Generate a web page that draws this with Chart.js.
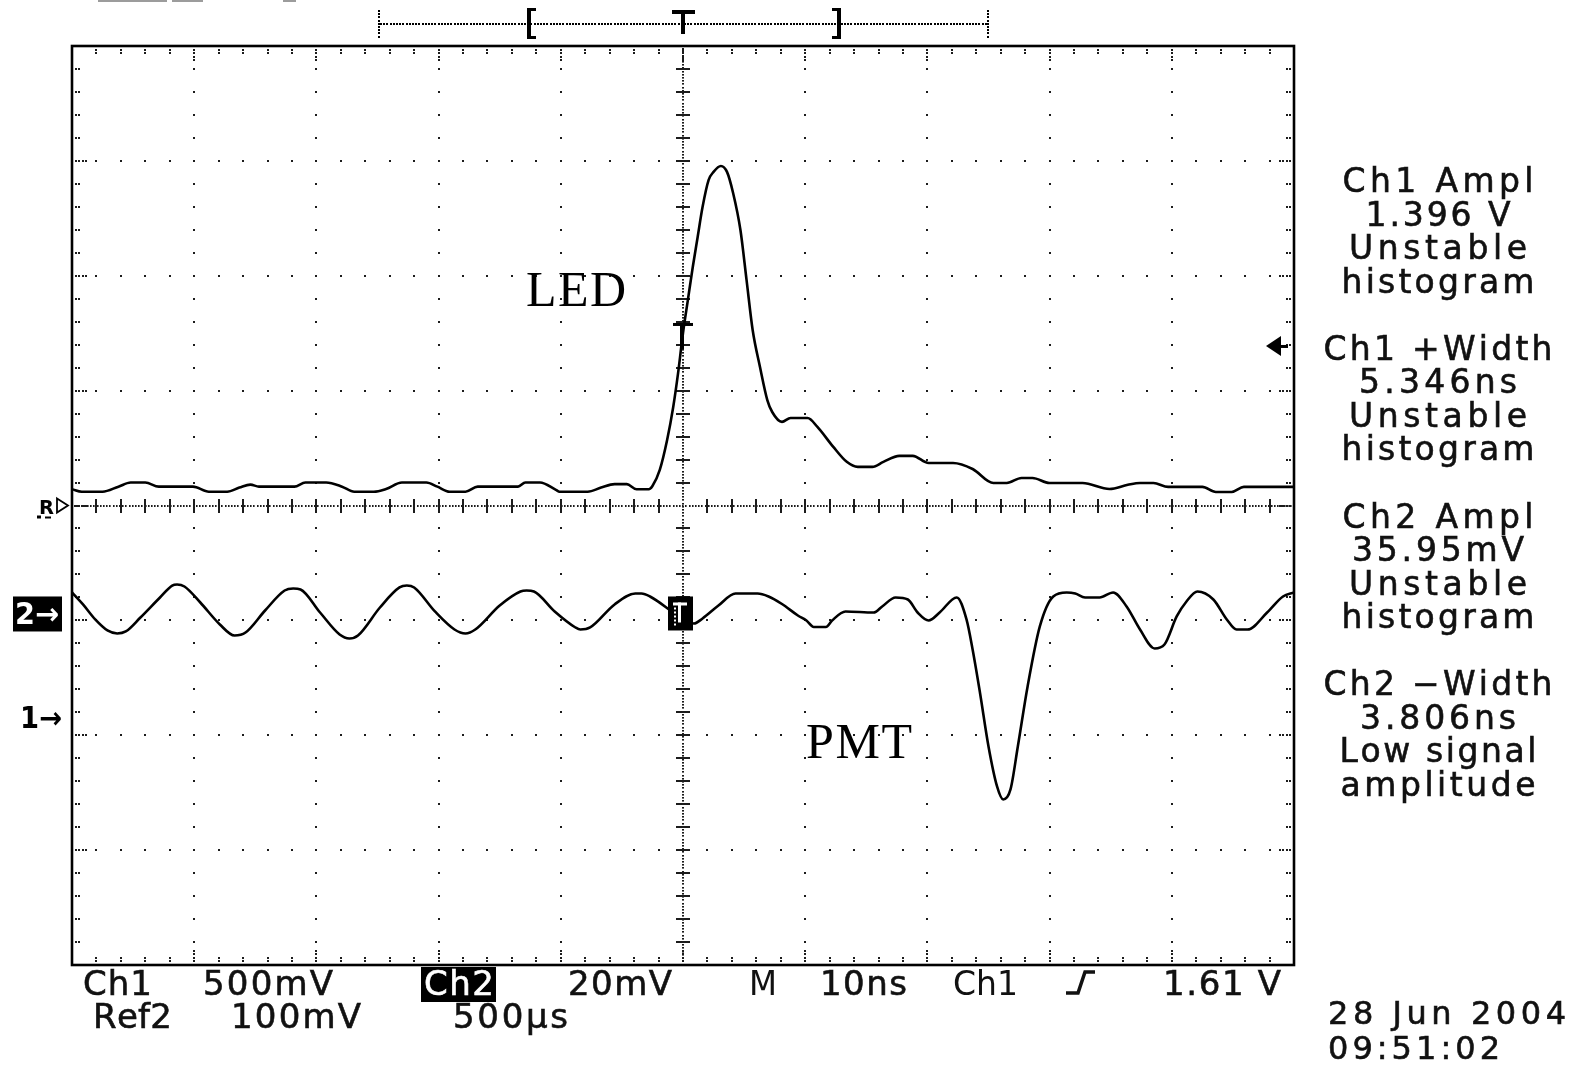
<!DOCTYPE html>
<html>
<head>
<meta charset="utf-8">
<script src="https://cdn.jsdelivr.net/npm/chart.js@4.4.1/dist/chart.umd.min.js"></script>
<style>
  html, body { margin: 0; padding: 0; background: #fff; }
  #wrap { width: 1570px; height: 1065px; position: relative; }
  canvas { display: block; }
</style>
</head>
<body>
<div id="wrap"><canvas id="scope" width="1570" height="1065"></canvas></div>
<script>
// ---------------- data ----------------
// Ch1 : LED drive pulse, volts ; Ch2 : PMT output, millivolts ; time in ns
const TIME_NS_LED = [-50.0,-49.2,-47.5,-46.2,-45.2,-44.0,-42.9,-40.1,-38.8,-37.3,-36.3,-35.4,-34.7,-31.8,-30.9,-29.2,-27.9,-26.9,-25.3,-24.3,-23.0,-21.0,-20.1,-19.1,-17.8,-16.8,-13.5,-12.9,-11.7,-10.4,-10.1,-7.8,-6.7,-5.6,-4.6,-3.8,-2.8,-2.5,-1.9,-1.3,-0.8,-0.4,0.0,0.4,0.8,1.2,1.6,2.1,2.5,3.1,3.6,4.1,4.7,5.2,5.7,6.3,6.9,7.3,8.1,8.8,10.2,11.0,12.3,13.4,14.3,15.5,16.4,17.7,18.8,20.1,22.1,23.7,25.4,26.5,27.7,28.6,30.0,32.7,34.9,36.4,37.4,38.5,39.7,42.5,43.6,44.9,45.9,50.0];
const CH1_LED_V = [0.991,0.980,0.980,1.002,1.020,1.020,1.002,1.002,0.980,0.980,0.998,1.011,1.002,1.002,1.020,1.020,1.002,0.980,0.980,0.992,1.020,1.020,1.002,0.980,0.980,1.002,1.002,1.020,1.020,0.988,0.980,0.980,0.998,1.013,1.013,0.991,0.991,1.005,1.075,1.205,1.349,1.497,1.671,1.815,1.958,2.089,2.219,2.337,2.372,2.398,2.372,2.280,2.119,1.902,1.684,1.523,1.379,1.327,1.284,1.301,1.301,1.262,1.175,1.110,1.088,1.088,1.110,1.136,1.136,1.105,1.105,1.079,1.018,1.018,1.040,1.040,1.018,1.018,0.992,1.010,1.018,1.018,1.001,1.001,0.979,0.979,1.001,1.001];

const TIME_NS_PMT = [-50.0,-49.1,-48.1,-47.1,-46.3,-45.6,-44.4,-42.8,-41.8,-41.4,-40.8,-39.5,-37.9,-36.7,-35.8,-34.2,-32.6,-31.9,-31.3,-29.7,-28.1,-27.3,-26.6,-24.8,-23.2,-22.6,-22.0,-20.3,-18.7,-17.8,-17.0,-15.0,-13.3,-12.8,-12.2,-10.5,-8.8,-8.4,-7.6,-5.6,-3.9,-3.4,-2.7,-0.8,0.0,0.9,1.6,2.9,4.3,6.1,7.0,8.1,9.4,10.1,10.7,11.7,12.2,13.3,15.6,16.3,17.4,18.4,19.2,20.1,21.0,22.4,23.2,23.7,24.3,25.0,25.7,26.2,26.8,27.4,28.2,29.2,30.3,31.4,32.1,32.9,34.1,35.2,36.3,37.4,38.6,39.4,40.4,41.2,42.1,43.4,44.5,45.3,46.2,47.8,49.1,50.0];
const CH2_PMT_MV = [3.66,1.57,-1.04,-2.96,-3.48,-3.13,-0.70,2.79,4.87,5.05,4.70,1.91,-1.91,-3.83,-3.31,0.52,4.00,4.35,4.18,0.17,-3.66,-4.35,-3.83,1.04,4.53,4.87,4.53,0.35,-2.79,-3.48,-2.79,1.39,3.83,4.00,3.83,0.35,-2.44,-2.79,-2.44,1.57,3.48,3.48,2.96,0.17,-1.04,-1.74,-0.87,1.39,3.48,3.48,2.96,1.65,-0.35,-1.22,-2.35,-2.35,-1.22,0.35,0.17,1.22,2.79,2.44,0.17,-1.22,0.17,2.79,-1.04,-6.27,-13.75,-23.15,-30.11,-32.38,-30.64,-23.15,-12.71,-2.26,2.96,3.66,3.48,2.79,2.79,3.66,1.22,-2.79,-6.09,-5.40,-0.52,2.09,3.83,2.44,-1.04,-2.79,-2.79,0.17,2.96,3.66];

// scope settings
const NS_PER_DIV = 10;
const CH1_V_PER_DIV = 0.5;
const CH2_MV_PER_DIV = 20;
const CH1_POSITION_DIV = -1.84;
const CH2_POSITION_DIV = -0.94;
const REF2_POSITION_DIV = 0;
const TRIGGER_LEVEL_V = 1.61;
const H_DIVS = 10, V_DIVS = 8, MINOR = 5;

// texts
const TRACE_LABELS = ["LED", "PMT"];
const MEASUREMENTS = [
  ["Ch1 Ampl", "1.396 V", "Unstable", "histogram"],
  ["Ch1 +Width", "5.346ns", "Unstable", "histogram"],
  ["Ch2 Ampl", "35.95mV", "Unstable", "histogram"],
  ["Ch2 \u2212Width", "3.806ns", "Low signal", "amplitude"]
];
const SETTINGS_ROW1 = ["Ch1", "500mV", "Ch2", "20mV", "M", "10ns", "Ch1", "1.61 V"];
const SETTINGS_ROW2 = ["Ref2", "100mV", "500\u00b5s"];
const DATE_LINES = ["28 Jun 2004", "09:51:02"];

// ---------------- helpers ----------------
function drawFit(ctx, text, x, base, size, width, o) {
  o = o || {};
  const fam = o.family || '"DejaVu Sans"';
  ctx.font = (o.weight || 'normal') + ' ' + size + 'px ' + fam;
  ctx.fillStyle = o.color || '#111';
  ctx.textBaseline = 'alphabetic';
  ctx.textAlign = 'left';
  const chars = Array.from(text);
  const ws = chars.map(c => ctx.measureText(c).width);
  const nat = ws.reduce((a, b) => a + b, 0);
  let sx = o.align === 'center' ? x - width / 2 : x;
  if (nat >= width || chars.length < 2) {
    ctx.save();
    ctx.translate(sx, base);
    ctx.scale(width / nat, 1);
    ctx.fillText(text, 0, 0);
    ctx.restore();
    return;
  }
  const gap = (width - nat) / (chars.length - 1);
  chars.forEach((c, i) => {
    ctx.fillText(c, sx, base);
    if (o.stroke) { ctx.strokeStyle = ctx.fillStyle; ctx.lineWidth = o.stroke; ctx.strokeText(c, sx, base); }
    sx += ws[i] + gap;
  });
}

const graticule = {
  id: 'graticule',
  beforeDatasetsDraw(chart) {
    const { ctx, chartArea: a } = chart;
    const xs = chart.scales.x, yd = chart.scales.div;
    const tStep = NS_PER_DIV / MINOR, vStep = 1 / MINOR;
    ctx.save();
    ctx.fillStyle = '#1c1c1c';
    const dot = (x, y, w = 2, h = 2) => ctx.fillRect(Math.round(x - w / 2), Math.round(y - h / 2), w, h);
    const nT = H_DIVS / 2 * MINOR, nV = V_DIVS / 2 * MINOR;
    for (let i = -H_DIVS / 2 + 1; i < H_DIVS / 2; i++) {
      if (i === 0) continue;
      const x = xs.getPixelForValue(i * NS_PER_DIV);
      for (let m = -nV + 1; m < nV; m++) dot(x, yd.getPixelForValue(m * vStep));
    }
    for (let j = -V_DIVS / 2 + 1; j < V_DIVS / 2; j++) {
      if (j === 0) continue;
      const y = yd.getPixelForValue(j);
      for (let k = -nT + 1; k < nT; k++) dot(xs.getPixelForValue(k * tStep), y);
    }
    const x0 = xs.getPixelForValue(0), y0 = yd.getPixelForValue(0);
    for (let y = a.top + 3; y < a.bottom - 1; y += 3.2) dot(x0, y, 2, 1.6);
    for (let x = a.left + 3; x < a.right - 1; x += 3.2) dot(x, y0, 1.6, 2);
    for (let m = -nV + 1; m < nV; m++) {
      if (m === 0) continue;
      const y = yd.getPixelForValue(m * vStep);
      ctx.fillRect(Math.round(x0 - 7), Math.round(y - 1), 14, 2);
    }
    for (let k = -nT + 1; k < nT; k++) {
      if (k === 0) continue;
      const x = xs.getPixelForValue(k * tStep);
      ctx.fillRect(Math.round(x - 1), Math.round(y0 - 7), 2, 14);
    }
    for (let k = -nT + 1; k < nT; k++) {
      const x = xs.getPixelForValue(k * tStep);
      const n = (k % MINOR === 0) ? 4 : 2;
      for (let q = 1; q <= n; q++) { dot(x, a.top + 1 + q * 3.2, 2, 2); dot(x, a.bottom - 1 - q * 3.2, 2, 2); }
    }
    for (let m = -nV + 1; m < nV; m++) {
      const y = yd.getPixelForValue(m * vStep);
      const n = (m % MINOR === 0) ? 4 : 2;
      for (let q = 1; q <= n; q++) { dot(a.left + 1 + q * 3.2, y, 2, 2); dot(a.right - 1 - q * 3.2, y, 2, 2); }
    }
    ctx.strokeStyle = '#000';
    ctx.lineWidth = 2.6;
    ctx.strokeRect(a.left, a.top, a.right - a.left, a.bottom - a.top);
    ctx.restore();
  }
};

const annotations = {
  id: 'annotations',
  afterDatasetsDraw(chart) {
    const { ctx, chartArea: a } = chart;
    const xs = chart.scales.x, y1 = chart.scales.ych1, y2 = chart.scales.ych2, yd = chart.scales.div;
    const x0 = xs.getPixelForValue(0);
    ctx.save();
    ctx.fillStyle = '#000';
    ctx.strokeStyle = '#000';

    ctx.fillStyle = '#9c9c9c';
    ctx.fillRect(98, 0, 69, 2); ctx.fillRect(172, 0, 31, 2); ctx.fillRect(283, 0, 13, 2);
    ctx.fillStyle = '#000';

    const barY = 24;
    for (let x = 380; x < 988; x += 3.2) ctx.fillRect(Math.round(x), barY - 1, 2, 2);
    for (let y = 10; y <= 38; y += 3.2) { ctx.fillRect(378, Math.round(y), 2, 2); ctx.fillRect(987, Math.round(y), 2, 2); }
    ctx.fillRect(527, 8, 4, 31); ctx.fillRect(527, 8, 9, 3); ctx.fillRect(527, 36, 9, 3);
    ctx.fillRect(837, 8, 4, 31); ctx.fillRect(832, 8, 9, 3); ctx.fillRect(832, 36, 9, 3);
    ctx.fillRect(x0 - 11, 10, 23, 4); ctx.fillRect(x0 - 2, 10, 4, 24);

    const ty = y1.getPixelForValue(TRIGGER_LEVEL_V);
    ctx.fillRect(x0 - 10, ty - 24, 20, 3);
    ctx.fillRect(x0 - 3, ty - 24, 4, 26);

    const g2 = y2.getPixelForValue(0);
    ctx.fillRect(x0 - 15, g2 - 17, 25, 34);
    ctx.fillStyle = '#fff';
    ctx.fillRect(x0 - 10, g2 - 11, 14, 3);
    ctx.fillRect(x0 - 5, g2 - 11, 3, 20);
    for (let y = g2 - 6; y < g2 + 12; y += 4) ctx.fillRect(x0 - 9, y, 2, 2);
    ctx.fillStyle = '#000';

    ctx.beginPath();
    ctx.moveTo(a.right - 28, ty - 1);
    ctx.lineTo(a.right - 13, ty - 11);
    ctx.lineTo(a.right - 13, ty + 9);
    ctx.closePath();
    ctx.fill();
    ctx.fillRect(a.right - 14, ty - 2, 8, 3);

    ctx.fillRect(13, g2 - 17, 49, 35);
    drawFit(ctx, '2\u2192', 15, g2 + 11, 30, 44, { color: '#fff', weight: 'bold' });
    const g1 = y1.getPixelForValue(0);
    drawFit(ctx, '1\u2192', 20, g1 + 11, 30, 42, { color: '#000', weight: 'bold' });
    const gr = yd.getPixelForValue(REF2_POSITION_DIV);
    drawFit(ctx, 'R', 39, gr + 8, 20, 15, { weight: 'bold', color: '#000' });
    ctx.fillRect(37, gr + 10, 4, 3); ctx.fillRect(45, gr + 11, 6, 2);
    ctx.lineWidth = 1.8;
    ctx.beginPath();
    ctx.moveTo(57, gr - 7); ctx.lineTo(68, gr); ctx.lineTo(57, gr + 7); ctx.closePath();
    ctx.stroke();

    drawFit(ctx, TRACE_LABELS[0], 526, 306, 50, 100, { family: '"Liberation Serif"', color: '#000' });
    drawFit(ctx, TRACE_LABELS[1], 806, 758, 50, 106, { family: '"Liberation Serif"', color: '#000' });

    const mw = [[191, 145, 178, 193], [229, 158, 178, 193], [191, 172, 178, 193], [229, 156, 197, 195]];
    MEASUREMENTS.forEach((blk, b) => {
      blk.forEach((line, l) => {
        drawFit(ctx, line, 1438, 192 + (b * 5 + l) * 33.55, 33, mw[b][l], { align: 'center', color: '#111', stroke: 0.6 });
      });
    });

    const r1 = 995, r2 = 1028;
    const r1x = [[83, 69], [203, 130], [424, 70], [568, 104], [749, 28], [820, 87], [953, 65], [1163, 118]];
    SETTINGS_ROW1.forEach((s, i) => {
      if (i === 2) {
        ctx.fillStyle = '#000';
        ctx.fillRect(421, 967, 75, 35);
        drawFit(ctx, s, r1x[i][0], r1, 34, r1x[i][1], { color: '#fff', stroke: 0.6 });
      } else {
        drawFit(ctx, s, r1x[i][0], r1, 34, r1x[i][1], { color: '#111', stroke: 0.6 });
      }
    });
    const r2x = [[93, 79], [231, 130], [453, 115]];
    SETTINGS_ROW2.forEach((s, i) => drawFit(ctx, s, r2x[i][0], r2, 34, r2x[i][1], { color: '#111', stroke: 0.6 }));
    ctx.strokeStyle = '#111';
    ctx.lineWidth = 3.5;
    ctx.beginPath();
    ctx.moveTo(1066, 993); ctx.lineTo(1078, 993); ctx.lineTo(1085, 972); ctx.lineTo(1095, 972);
    ctx.stroke();

    drawFit(ctx, DATE_LINES[0], 1328, 1024, 32, 238, { color: '#111', stroke: 0.6 });
    drawFit(ctx, DATE_LINES[1], 1328, 1059, 32, 172, { color: '#111', stroke: 0.6 });
    ctx.restore();
  }
};

// ---------------- chart ----------------
const ledPts = TIME_NS_LED.map((t, i) => ({ x: t, y: CH1_LED_V[i] }));
const pmtPts = TIME_NS_PMT.map((t, i) => ({ x: t, y: CH2_PMT_MV[i] }));
const halfT = H_DIVS / 2 * NS_PER_DIV, halfV = V_DIVS / 2;

new Chart(document.getElementById('scope'), {
  type: 'line',
  data: {
    datasets: [
      { label: 'Ch1 LED', data: ledPts, yAxisID: 'ych1', borderColor: '#000', borderWidth: 2.6,
        pointRadius: 0, cubicInterpolationMode: 'monotone', fill: false },
      { label: 'Ch2 PMT', data: pmtPts, yAxisID: 'ych2', borderColor: '#000', borderWidth: 2.6,
        pointRadius: 0, cubicInterpolationMode: 'monotone', fill: false }
    ]
  },
  options: {
    responsive: false,
    animation: false,
    devicePixelRatio: 1,
    layout: { padding: { left: 72, top: 46, right: 276, bottom: 100 } },
    plugins: { legend: { display: false }, tooltip: { enabled: false } },
    scales: {
      x: { type: 'linear', axis: 'x', position: 'bottom', min: -halfT, max: halfT, display: false },
      ych1: { type: 'linear', axis: 'y', position: 'left', display: false,
              min: (-halfV - CH1_POSITION_DIV) * CH1_V_PER_DIV, max: (halfV - CH1_POSITION_DIV) * CH1_V_PER_DIV },
      ych2: { type: 'linear', axis: 'y', position: 'left', display: false,
              min: (-halfV - CH2_POSITION_DIV) * CH2_MV_PER_DIV, max: (halfV - CH2_POSITION_DIV) * CH2_MV_PER_DIV },
      div: { type: 'linear', axis: 'y', position: 'left', display: false, min: -halfV, max: halfV }
    }
  },
  plugins: [graticule, annotations]
});
</script>
</body>
</html>
